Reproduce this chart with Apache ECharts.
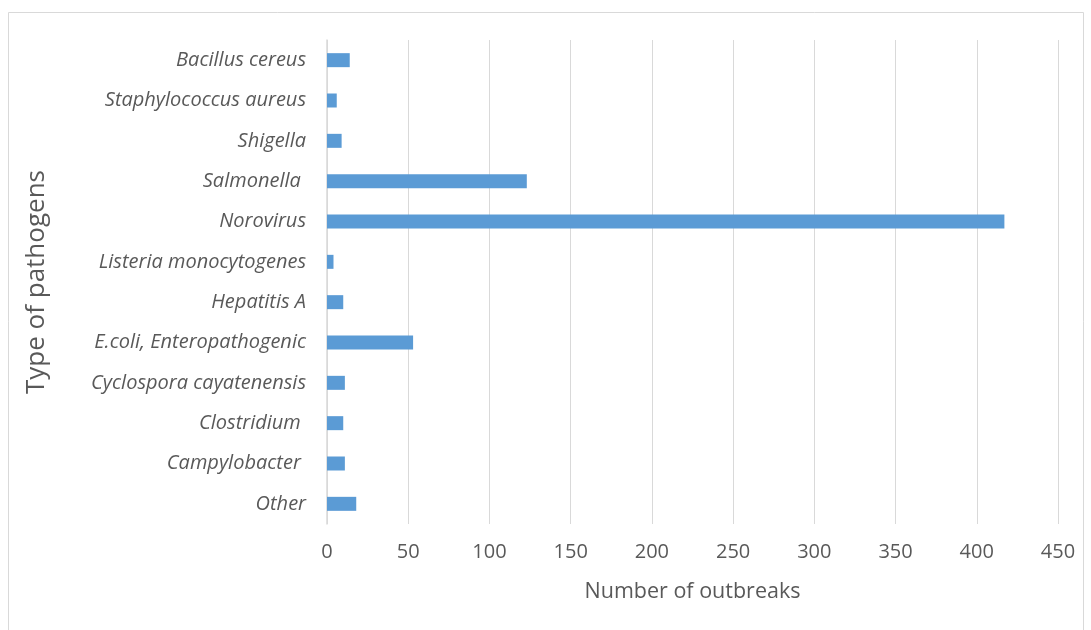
<!DOCTYPE html>
<html>
<head>
<meta charset="utf-8">
<script src="https://cdn.jsdelivr.net/npm/echarts@6/dist/echarts.min.js"></script>
<style>
  html, body { margin: 0; padding: 0; background: #fff; }
  #chart { width: 1091px; height: 630px; }
</style>
</head>
<body>
<div id="chart"></div>
<script>
// pathogens, bottom to top (category axis starts at the bottom)
var pathogens = ['Other', 'Campylobacter ', 'Clostridium ', 'Cyclospora cayatenensis',
    'E.coli, Enteropathogenic', 'Hepatitis A', 'Listeria monocytogenes', 'Norovirus',
    'Salmonella ', 'Shigella', 'Staphylococcus aureus', 'Bacillus cereus'];
var outbreaks = [18, 11, 10, 11, 53, 10, 4, 417, 123, 9, 6, 14];

var myChart = echarts.init(document.getElementById('chart'));
var option = {
    backgroundColor: '#fff',
    animation: false,
    graphic: [{
        type: 'rect',
        shape: { x: 8.5, y: 12.5, width: 1075, height: 640 },
        style: { fill: 'none', stroke: '#d9d9d9', lineWidth: 1 }
    }],
    grid: { left: 327, right: 33, top: 40, bottom: 106 },
    xAxis: {
        type: 'value',
        min: 0,
        max: 450,
        interval: 50,
        name: 'Number of outbreaks',
        nameLocation: 'middle',
        nameGap: 57,
        nameTextStyle: { color: '#595959', fontSize: 21.5, fontFamily: 'Open Sans' },
        axisLine: { show: false },
        axisTick: { show: false },
        axisLabel: { color: '#595959', fontSize: 20, fontFamily: 'Open Sans', margin: 18 },
        splitLine: { lineStyle: { color: '#d9d9d9', width: 1 } }
    },
    yAxis: {
        type: 'category',
        data: pathogens,
        name: 'Type of pathogens',
        nameLocation: 'middle',
        nameGap: 277,
        nameTextStyle: { color: '#595959', fontSize: 26, fontFamily: 'Open Sans' },
        axisLine: { show: true, lineStyle: { color: '#d9d9d9', width: 1.5 } },
        axisTick: { show: false },
        axisLabel: { color: '#595959', fontSize: 20, fontStyle: 'italic', fontFamily: 'Open Sans', margin: 21 }
    },
    series: [{
        type: 'bar',
        data: outbreaks,
        barWidth: 14,
        itemStyle: { color: '#5b9bd5' }
    }]
};
myChart.setOption(option);
</script>
</body>
</html>
